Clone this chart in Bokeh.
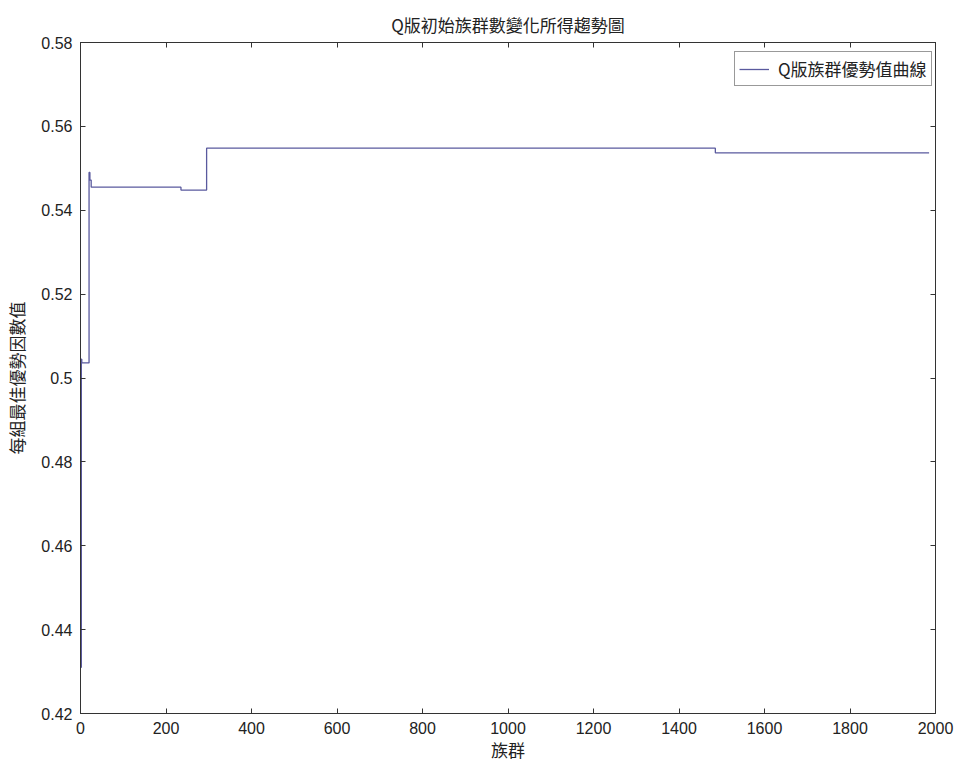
from bokeh.plotting import figure
from bokeh.models import LinearAxis, Range1d, FixedTicker, Legend, LegendItem, ColumnDataSource
from bokeh.embed import file_html
from bokeh.resources import INLINE

# data: generation where the best value changes, and the value from there on
generations = [1, 2, 3, 20, 22, 25, 235, 295, 1485, 1985]
best_value = [0.431, 0.5045, 0.5036, 0.549, 0.5472, 0.5455, 0.5448, 0.5548, 0.5537, 0.5537]
x_ticks = [0, 200, 400, 600, 800, 1000, 1200, 1400, 1600, 1800, 2000]
y_ticks = [0.42, 0.44, 0.46, 0.48, 0.50, 0.52, 0.54, 0.56, 0.58]
y_tick_labels = {0.42: "0.42", 0.44: "0.44", 0.46: "0.46", 0.48: "0.48", 0.5: "0.5",
                 0.52: "0.52", 0.54: "0.54", 0.56: "0.56", 0.58: "0.58"}
title_text = "Q版初始族群數變化所得趨勢圖"
legend_text = "Q版族群優勢值曲線"
x_label = "族群"
y_label = "每組最佳優勢因數值"

CJK = "Noto Sans CJK TC"
NUM = "Liberation Sans"
LINE_COLOR = "#5a5a9e"

p = figure(frame_width=855, frame_height=671, output_backend="svg", toolbar_location=None,
           x_range=Range1d(0, 2000), y_range=Range1d(0.42, 0.58),
           min_border_left=80, min_border_right=26, min_border_top=42, min_border_bottom=54)
p.title.text = title_text
p.title.text_font = CJK
p.title.text_font_size = "17px"
p.title.text_font_style = "normal"
p.title.align = "center"
p.title.text_color = "#222222"
p.title.standoff = 12

src = ColumnDataSource(dict(x=generations, y=best_value))
r = p.step("x", "y", source=src, mode="after", line_color=LINE_COLOR, line_width=1.3)

p.grid.visible = False
p.outline_line_color = "#333333"
p.background_fill_color = "white"
p.border_fill_color = "white"

for ax in p.xaxis:
    ax.ticker = FixedTicker(ticks=x_ticks)
for ax in p.yaxis:
    ax.ticker = FixedTicker(ticks=y_ticks)
    ax.major_label_overrides = y_tick_labels

def style_axis(ax, labels=True):
    ax.major_tick_in = 5
    ax.major_tick_out = 0
    ax.minor_tick_line_color = None
    ax.axis_line_color = "#333333"
    ax.major_tick_line_color = "#333333"
    ax.major_label_text_font = NUM
    ax.major_label_text_font_size = "16px"
    ax.major_label_text_color = "#222222"
    ax.axis_label_text_font = CJK
    ax.axis_label_text_font_size = "17px"
    ax.axis_label_text_font_style = "normal"
    ax.axis_label_text_color = "#222222"
    if not labels:
        ax.major_label_text_alpha = 0
        ax.major_label_text_font_size = "0px"
        ax.major_label_standoff = 0

for ax in p.xaxis:
    style_axis(ax)
    ax.axis_label = x_label
    ax.axis_label_standoff = 0
    ax.major_label_standoff = 8
for ax in p.yaxis:
    style_axis(ax)
    ax.axis_label = y_label
    ax.axis_label_standoff = 9
    ax.major_label_standoff = 8

top = LinearAxis(ticker=FixedTicker(ticks=x_ticks))
style_axis(top, labels=False)
p.add_layout(top, "above")
right = LinearAxis(ticker=FixedTicker(ticks=y_ticks))
style_axis(right, labels=False)
p.add_layout(right, "right")

legend = Legend(items=[LegendItem(label=legend_text, renderers=[r])],
                location=(654, 627))
legend.label_text_font = CJK
legend.label_text_font_size = "17px"
legend.label_text_color = "#222222"
legend.border_line_color = "#333333"
legend.border_line_width = 1
legend.glyph_width = 30
legend.glyph_height = 14
legend.label_height = 14
legend.padding = 4
legend.margin = 0
legend.spacing = 0
legend.label_standoff = 9
p.add_layout(legend, "center")

open("out.html", "w").write(file_html(p, INLINE))
